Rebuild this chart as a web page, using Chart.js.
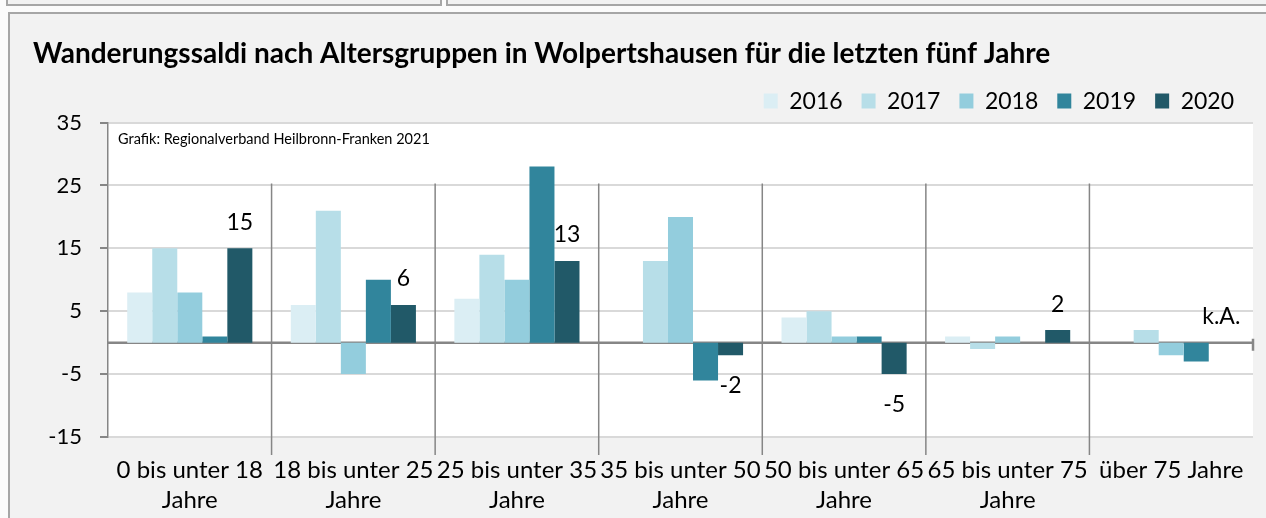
<!DOCTYPE html>
<html lang="de">
<head>
<meta charset="utf-8">
<title>Wanderungssaldi Wolpertshausen</title>
<script src="https://cdn.jsdelivr.net/npm/chart.js@4.4.1/dist/chart.umd.min.js"></script>
<style>
  html, body { margin: 0; padding: 0; background: #fbfbfb; }
  .seite { position: relative; width: 1266px; height: 518px; overflow: hidden; }
  .tab-links { position: absolute; left: 6px; top: -4px; width: 432px; height: 6px; border: 2px solid #a6a6a6; background: #f2f2f2; }
  .tab-rechts { position: absolute; left: 446px; top: -4px; width: 830px; height: 6px; border: 2px solid #a6a6a6; background: #f2f2f2; }
  .rahmen { position: absolute; left: 8px; top: 12px; width: 1270px; height: 520px; border: 2px solid #a6a6a6; background: #f2f2f2; }
  canvas { position: absolute; left: 0; top: 0; }
</style>
</head>
<body>
<div class="seite">
  <div class="tab-links"></div>
  <div class="tab-rechts"></div>
  <div class="rahmen"></div>
  <canvas id="grafik-wanderung" width="1266" height="518"></canvas>
</div>
<script>
const kategorien = [
  ["0 bis unter 18", "Jahre"],
  ["18 bis unter 25", "Jahre"],
  ["25 bis unter 35", "Jahre"],
  ["35 bis unter 50", "Jahre"],
  ["50 bis unter 65", "Jahre"],
  ["65 bis unter 75", "Jahre"],
  "über 75 Jahre"
];

const jahre = ["2016", "2017", "2018", "2019", "2020"];

const werte2016 = [8, 6, 7, 0, 4, 1, 0];
const werte2017 = [15, 21, 14, 13, 5, -1, 2];
const werte2018 = [8, -5, 10, 20, 1, 1, -2];
const werte2019 = [1, 10, 28, -6, 1, 0, -3];
const werte2020 = [15, 6, 13, -2, -5, 2, null];

const beschriftung2020 = ["15", "6", "13", "-2", "-5", "2", "k.A."];

const yTicks = [-15, -5, 5, 15, 25, 35];

const farben = ["#dbeef4", "#b7dee8", "#93cddd", "#31859c", "#215968"];
const schrift = "Lato, 'Open Sans', sans-serif";

// weisse Zeichenfläche hinter den Balken
const hintergrund = {
  id: "hintergrund",
  beforeDraw(chart) {
    const { ctx, chartArea: a } = chart;
    ctx.save();
    ctx.fillStyle = "#ffffff";
    ctx.fillRect(a.left, a.top, a.right - a.left, a.bottom - a.top);
    ctx.restore();
  }
};

// Nulllinie, Trennstriche zwischen den Gruppen, Quellenangabe
const achsen = {
  id: "achsen",
  beforeDatasetsDraw(chart) {
    const { ctx, chartArea: a, scales: { x, y } } = chart;
    const null0 = y.getPixelForValue(0);
    ctx.save();
    ctx.strokeStyle = "#868686";
    ctx.lineWidth = 2.5;
    ctx.beginPath();
    ctx.moveTo(a.left, null0);
    ctx.lineTo(a.right, null0);
    ctx.moveTo(a.right, null0 - 4);
    ctx.lineTo(a.right, null0 + 8);
    ctx.stroke();

    ctx.lineWidth = 1.5;
    ctx.beginPath();
    for (let i = 0; i < kategorien.length - 1; i++) {
      const xs = (x.getPixelForValue(i) + x.getPixelForValue(i + 1)) / 2;
      ctx.moveTo(xs, y.getPixelForValue(25.3));
      ctx.lineTo(xs, a.bottom + 18);
    }
    ctx.stroke();

    ctx.fillStyle = "#000";
    ctx.font = "14.5px " + schrift;
    ctx.textBaseline = "middle";
    ctx.fillText("Grafik: Regionalverband Heilbronn-Franken 2021", a.left + 10, a.top + 17);
    ctx.restore();
  }
};

// Werte nur für 2020 beschriften
const werteText = {
  id: "werteText",
  afterDatasetsDraw(chart) {
    const { ctx, scales: { y } } = chart;
    const meta = chart.getDatasetMeta(4);
    ctx.save();
    ctx.fillStyle = "#000";
    ctx.font = "23px " + schrift;
    ctx.textAlign = "center";
    ctx.textBaseline = "middle";
    meta.data.forEach((bar, i) => {
      const v = werte2020[i];
      const basis = y.getPixelForValue(v === null ? 0 : v);
      const ypos = v !== null && v < 0 ? basis + 30 : basis - 26;
      ctx.fillText(beschriftung2020[i], bar.x, ypos);
    });
    ctx.restore();
  }
};

const reihen = [werte2016, werte2017, werte2018, werte2019, werte2020];

new Chart(document.getElementById("grafik-wanderung"), {
  type: "bar",
  data: {
    labels: kategorien,
    datasets: reihen.map((werte, i) => ({
      label: jahre[i],
      data: werte,
      backgroundColor: farben[i],
      borderWidth: 0,
      categoryPercentage: 0.765,
      barPercentage: 1.0
    }))
  },
  options: {
    responsive: false,
    animation: false,
    devicePixelRatio: 1,
    layout: { padding: { left: 33, right: 13, top: 0, bottom: 0 } },
    plugins: {
      title: {
        display: true,
        text: "Wanderungssaldi nach Altersgruppen in Wolpertshausen für die letzten fünf Jahre",
        align: "start",
        color: "#000",
        font: { family: schrift, size: 28, weight: "bold", lineHeight: 1.2 },
        padding: { top: 37, bottom: 0 }
      },
      legend: {
        position: "top",
        align: "end",
        labels: {
          color: "#000",
          boxWidth: 14,
          boxHeight: 15,
          padding: 19,
          font: { family: schrift, size: 23 }
        }
      },
      tooltip: { enabled: false }
    },
    scales: {
      x: {
        grid: { display: false, drawTicks: false },
        border: { display: false },
        ticks: {
          color: "#000",
          maxRotation: 0,
          autoSkip: false,
          padding: 18,
          font: { family: schrift, size: 24, lineHeight: 1.25 }
        },
        afterFit(scale) { scale.height = 81; }
      },
      y: {
        min: -15,
        max: 35,
        afterBuildTicks(scale) { scale.ticks = yTicks.map(v => ({ value: v })); },
        grid: { color: "#d9d9d9", lineWidth: 2, tickColor: "#868686", tickLength: 8 },
        border: { display: true, color: "#868686", width: 1.5 },
        ticks: {
          color: "#000",
          padding: 18,
          font: { family: schrift, size: 22 }
        },
        afterFit(scale) { scale.width = 75; }
      }
    }
  },
  plugins: [hintergrund, achsen, werteText]
});
</script>
</body>
</html>
